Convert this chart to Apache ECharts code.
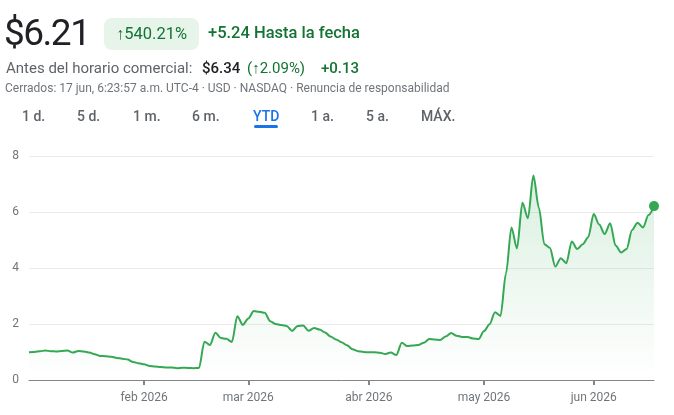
<!DOCTYPE html>
<html>
<head>
<meta charset="utf-8">
<script src="https://cdn.jsdelivr.net/npm/echarts@6/dist/echarts.min.js"></script>
<style>
  html, body { margin: 0; padding: 0; background: #fff; }
  body { width: 674px; height: 415px; position: relative; overflow: hidden;
         font-family: Roboto, "Noto Sans", Arial, sans-serif; }
  #chart { position: absolute; left: 0; top: 0; width: 674px; height: 415px; }
  .abs { position: absolute; white-space: nowrap; }
  .price { left: 4px; top: 11px; font-size: 37px; color: #202124; letter-spacing: -1.5px; }
  .badge { left: 104px; top: 18px; width: 95px; height: 32px; border-radius: 8px;
           background: #e6f4ea; color: #137333; font-size: 16.5px; line-height: 32px;
           text-align: center; }
  .ytd-change { left: 208px; top: 22px; font-size: 16.5px; line-height: 22px; font-weight: 500; }
  .pre { top: 59px; font-size: 15px; line-height: 18px; color: #5f6368; }
  .closed { left: 5px; top: 80px; font-size: 12px; line-height: 16px; color: #70757a; }
  .tab { top: 107px; font-size: 14px; line-height: 18px; color: #5f6368; font-weight: 500; }
  .tab.on { color: #1a73e8; }
  .underline { left: 254px; top: 125px; width: 24px; height: 3px; border-radius: 2px; background: #1a73e8; }
  .abs.green { color: #137333; }
</style>
</head>
<body>
<div id="chart"></div>

<div class="abs price">$6.21</div>
<div class="abs badge">↑540.21%</div>
<div class="abs ytd-change green">+5.24 Hasta la fecha</div>
<div class="abs pre" style="left:6px">Antes del horario comercial:</div>
<div class="abs pre" style="left:202px;color:#202124;font-weight:500">$6.34</div>
<div class="abs pre green" style="left:247px">(↑2.09%)</div>
<div class="abs pre green" style="left:321px;font-weight:500">+0.13</div>
<div class="abs closed">Cerrados: 17 jun, 6:23:57 a.m. UTC-4 · USD · NASDAQ · Renuncia de responsabilidad</div>

<div class="abs tab" style="left:22px">1 d.</div>
<div class="abs tab" style="left:77px">5 d.</div>
<div class="abs tab" style="left:133px">1 m.</div>
<div class="abs tab" style="left:192px">6 m.</div>
<div class="abs tab on" style="left:253px">YTD</div>
<div class="abs tab" style="left:311px">1 a.</div>
<div class="abs tab" style="left:366px">5 a.</div>
<div class="abs tab" style="left:421px">MÁX.</div>
<div class="abs underline"></div>

<script>
// 交易日 (按月)
var DEC_2025 = [31];
var JAN_2026 = [2, 5, 6, 7, 8, 9, 12, 13, 14, 15, 16, 20, 21, 22, 23, 26, 27, 28, 29, 30];
var FEB_2026 = [2, 3, 4, 5, 6, 9, 10, 11, 12, 13, 17, 18, 19, 20, 23, 24, 25, 26, 27];
var MAR_2026 = [2, 3, 4, 5, 6, 9, 10, 11, 12, 13, 16, 17, 18, 19, 20, 23, 24, 25, 26, 27, 30, 31];
var APR_2026 = [1, 2, 6, 7, 8, 9, 10, 13, 14, 15, 16, 17, 20, 21, 22, 23, 24, 27, 28, 29, 30];
var MAY_2026 = [1, 4, 5, 6, 7, 8, 11, 12, 13, 14, 15, 18, 19, 20, 21, 22, 26, 27, 28, 29];
var JUN_2026 = [1, 2, 3, 4, 5, 8, 9, 10, 11, 12, 15, 16];

var MONTH_NAMES = ['ene', 'feb', 'mar', 'abr', 'may', 'jun', 'jul', 'ago', 'sep', 'oct', 'nov', 'dic'];
var LABEL_MONTHS = ['2026-02', '2026-03', '2026-04', '2026-05', '2026-06'];

// 收盘价 (USD)
var PRICES = [
  0.99,
  1.00, 1.03, 1.05, 1.03, 1.02, 1.04, 1.05, 0.98, 1.04, 1.02, 0.98, 0.92, 0.86, 0.85, 0.83, 0.79, 0.76, 0.73, 0.64, 0.60,
  0.56, 0.50, 0.48, 0.46, 0.45, 0.45, 0.42, 0.44, 0.43, 0.42, 0.43, 1.37, 1.25, 1.69, 1.50, 1.47, 1.36, 2.28, 1.97,
  2.20, 2.46, 2.44, 2.40, 2.10, 2.00, 1.96, 1.93, 1.75, 1.93, 1.95, 1.76, 1.86, 1.80, 1.70, 1.55, 1.45, 1.35, 1.24, 1.10, 1.03, 1.00,
  0.99, 0.99, 0.97, 0.93, 0.98, 0.89, 1.33, 1.21, 1.23, 1.25, 1.33, 1.46, 1.45, 1.43, 1.55, 1.68, 1.58, 1.54, 1.54, 1.48, 1.46,
  1.75, 1.99, 2.42, 2.29, 3.80, 5.45, 4.70, 6.33, 5.78, 7.30, 6.15, 4.85, 4.72, 4.05, 4.35, 4.17, 4.95, 4.68, 4.85, 5.10,
  5.93, 5.55, 5.21, 5.60, 4.80, 4.55, 4.68, 5.36, 5.62, 5.45, 5.89, 6.21
];

var Y_MIN = 0, Y_MAX = 8, Y_STEP = 2;

function pad(n) { return n < 10 ? '0' + n : '' + n; }
function daysToDates(ym, days) { return days.map(function (d) { return ym + '-' + pad(d); }); }

var dates = [].concat(
  daysToDates('2025-12', DEC_2025),
  daysToDates('2026-01', JAN_2026),
  daysToDates('2026-02', FEB_2026),
  daysToDates('2026-03', MAR_2026),
  daysToDates('2026-04', APR_2026),
  daysToDates('2026-05', MAY_2026),
  daysToDates('2026-06', JUN_2026)
);

// 每月第一个交易日显示刻度与标签
function isMonthStart(idx) {
  var ym = dates[idx].slice(0, 7);
  if (LABEL_MONTHS.indexOf(ym) === -1) return false;
  return idx === 0 || dates[idx - 1].slice(0, 7) !== ym;
}

var GREEN = '#34a853';
var last = PRICES.length - 1;

var chart = echarts.init(document.getElementById('chart'), null, { renderer: 'canvas' });
chart.setOption({
  animation: false,
  grid: { left: 29, right: 20, top: 156, bottom: 35, outerBoundsMode: 'none' },
  xAxis: {
    type: 'category',
    data: dates,
    boundaryGap: false,
    axisLine: { lineStyle: { color: '#80868b', width: 1 } },
    axisTick: {
      interval: function (i) { return isMonthStart(i); },
      length: 5,
      lineStyle: { color: '#80868b', width: 2 }
    },
    axisLabel: {
      interval: function (i) { return isMonthStart(i); },
      formatter: function (v) { return MONTH_NAMES[+v.slice(5, 7) - 1] + ' ' + v.slice(0, 4); },
      color: '#70757a', fontSize: 12, margin: 12,
      fontFamily: 'Roboto, Arial, sans-serif'
    },
    splitLine: { show: false }
  },
  yAxis: {
    type: 'value',
    min: Y_MIN, max: Y_MAX, interval: Y_STEP,
    axisLine: { show: false },
    axisTick: { show: false },
    axisLabel: { color: '#70757a', fontSize: 12, margin: 10, fontFamily: 'Roboto, Arial, sans-serif' },
    splitLine: { lineStyle: { color: '#ebebeb', width: 1 } }
  },
  series: [
    {
      type: 'line',
      data: PRICES,
      smooth: 0.3,
      smoothMonotone: 'x',
      symbol: 'none',
      lineStyle: { color: GREEN, width: 2 },
      areaStyle: {
        color: new echarts.graphic.LinearGradient(0, 0, 0, 1, [
          { offset: 0, color: 'rgba(52,168,83,0.26)' },
          { offset: 1, color: 'rgba(52,168,83,0)' }
        ])
      },
      z: 2
    },
    {
      type: 'scatter',
      data: [[last, PRICES[last]]],
      symbolSize: 10,
      itemStyle: { color: GREEN, opacity: 1 },
      z: 3
    }
  ]
});
</script>
</body>
</html>
